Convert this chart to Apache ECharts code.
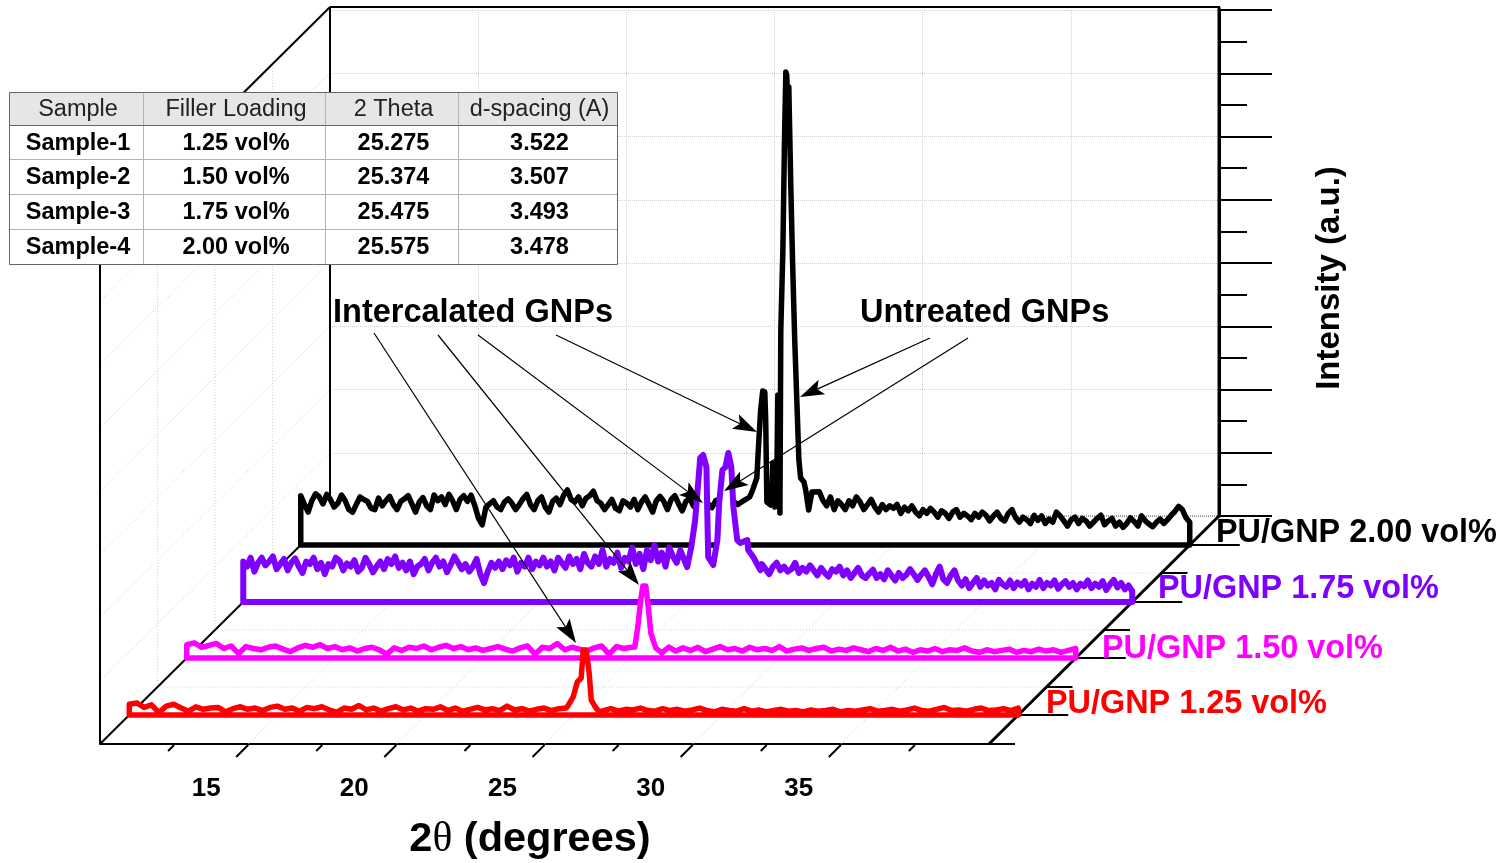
<!DOCTYPE html>
<html>
<head>
<meta charset="utf-8">
<title>XRD PU/GNP</title>
<style>
html, body { margin: 0; padding: 0; background: #fff; }
#chart { width: 1508px; height: 863px; }
</style>
<script src="https://cdn.jsdelivr.net/npm/echarts@6/dist/echarts.min.js"></script>
</head>
<body>
<div id="chart"></div>
<script>
// 2 theta ticks on the floor of the box
const majorTicks = [15, 20, 25, 30, 35];
const minorTicks = [12.5, 17.5, 22.5, 27.5, 32.5, 37.5];
const floorGridTicks = [15, 20, 25, 30, 35, 40];

// table
const tableHeader = ['Sample', 'Filler Loading', '2 Theta', 'd-spacing (A)'];
const tableRow1 = ['Sample-1', '1.25 vol%', '25.275', '3.522'];
const tableRow2 = ['Sample-2', '1.50 vol%', '25.374', '3.507'];
const tableRow3 = ['Sample-3', '1.75 vol%', '25.475', '3.493'];
const tableRow4 = ['Sample-4', '2.00 vol%', '25.575', '3.478'];

// background counts at a fixed step (black, purple 0.125 deg; magenta, red 0.25 deg),
// the peak is read point by point
const blackBefore = [780,640,520,700,810,760,650,800,720,600,
    660,790,700,560,520,640,760,720,690,580,
    560,740,620,700,770,640,560,690,730,780,
    650,520,680,750,620,560,790,700,760,640,
    800,700,560,720,780,690,790,620,420,320,
    600,650,700,600,560,680,730,660,560,640,
    730,800,640,560,700,760,600,520,690,740,
    640,790,870,720,680,760,620,740,780,850,
    700,660,560,640,720,580,540,700,660,600,
    720,560,680,760,640,520,700,770,690,560,
    720,780,650,540,690,740,620,560,710,760,
    650,590,700,720,640,690,760,680,640];
const blackPeakTheta = [24.98,25.15,25.25,25.39,25.46,25.52,25.59,25.66,25.69,25.73,25.86,25.90,25.93,25.96,26.00,26.06,26.10,26.13,26.17,26.20,26.27,26.33,26.37,26.40,26.44,26.47,26.54,26.60,26.67,26.74,26.81,26.87,26.98,27.04,27.14,27.25];
const blackPeakCounts = [711,759,870,1059,1660,2134,2435,2419,1976,680,632,870,1296,1296,600,711,2372,2372,506,3399,4664,6561,7478,7431,6877,7241,5613,4427,3241,2292,1344,1059,996,870,553,838];
const blackAfter = [840,700,620,760,560,700,640,560,700,620,
    760,680,560,640,720,600,520,640,560,620,
    580,640,500,600,540,620,520,460,560,500,
    580,520,440,540,500,420,520,560,440,500,
    460,400,500,440,520,470,380,460,520,420,
    380,500,560,430,360,440,400,340,470,390,
    460,340,410,360,520,460,380,300,400,440,
    340,420,380,300,360,420,470,320,380,420,
    300,360,280,340,430,370,300,460,380,330,
    290,360,410,340,400,470,530,610,560,430,
    360];

const purpleBefore = [640,560,700,480,620,700,580,640,720,520,
    600,680,500,620,690,560,460,640,600,700,
    520,620,440,600,560,700,650,500,610,560,
    660,480,540,700,600,470,560,640,520,680,
    600,720,540,620,500,640,440,560,600,680,
    500,620,700,560,640,470,590,720,620,520,
    600,480,560,680,440,300,480,620,540,640,
    520,660,580,700,480,620,560,700,520,640,
    580,700,560,640,500,700,620,540,720,600,
    680,520,760,620,560,720,600,820,560,680,
    620,780,540,700,640,860,600,760,520,820,
    660,900,640,780,560,860,720,620,820];
const purplePeakTheta = [24.98,25.12,25.25,25.36,25.42,25.52,25.63,25.66,25.69,25.86,26.00,26.06,26.17,26.27,26.37,26.47,26.54,26.67,26.77,27.01,27.04,27.21,27.45];
const purplePeakCounts = [553,870,1296,1929,2277,2324,2134,1407,711,585,980,1565,2087,2134,2356,2134,1502,980,933,980,822,711,506];
const purpleAfter = [600,520,440,560,620,500,560,480,520,620,
    460,540,480,580,500,420,540,460,400,520,
    480,560,420,500,380,460,540,420,380,450,
    510,380,440,360,500,420,340,460,380,430,
    520,440,350,430,500,400,280,440,560,360,
    300,420,500,340,260,360,220,300,380,240,
    340,260,300,200,350,280,240,340,220,310,
    260,330,200,290,240,350,220,300,260,340,
    210,280,330,240,300,200,290,250,340,220,
    290,240,330,190,280,350,230,300,200,260,
    170];

const magentaBefore = [210,240,170,200,230,150,190,70,180,150,130,170,190,140,100,160,200,170,210,150,
    180,130,160,110,150,170,130,60,160,120,170,150,190,130,170,200,150,180,130,160,
    120,150,180,140,110,160,190,60,170,150,230,130,170,140,110,160,190,60,180,150,170];
const magentaPeakTheta = [25.12,25.22,25.32,25.39,25.49,25.56,25.66,25.83,26.03,26.27];
const magentaPeakCounts = [174,490,917,1138,1138,870,395,158,79,174];
const magentaAfter = [110,160,120,170,100,140,180,130,150,110,170,130,150,120,180,110,140,160,120,150,
    170,110,140,120,160,130,100,150,120,170,110,140,90,130,110,150,100,130,120,160,
    110,90,130,100,120,140,90,120,100,140,110,130,90,120,150];

const redBefore = [170,190,120,160,40,140,170,110,60,130,90,110,120,50,100,130,90,110,70,120,
    140,90,110,60,120,100,130,80,40,110,90,150,80,110,60,100,130,80,110,60,
    100,90,130,70,110,60,90,120,80,100,70,140,80,100,60,90,110,70,100,110];
const redPeakTheta = [24.82,24.98,25.12,25.25,25.32,25.42,25.52,25.59,25.73,25.86];
const redPeakCounts = [158,285,522,585,1028,1028,664,237,126,47];
const redAfter = [70,100,60,90,80,110,70,60,100,70,90,60,80,110,70,50,90,70,60,100,
    60,80,50,70,90,60,70,50,80,60,70,90,50,70,60,80,100,60,70,90,
    60,80,110,70,60,90,120,70,80,60,90,110,70,80,100,70,110];

// box geometry in page pixels
const boxLeft = 100, boxWidth = 889, floorFront = 744, floorBack = 516, wallTop = 7;
const depthX = 230, plotHeight = 506;
const slant = depthX / (floorFront - floorBack);
const FONT = '"Liberation Sans", Arial, sans-serif';
const GRID_GREY = '#d0d0d0';

function buildCurve (before, peakTheta, peakCounts, after, step) {
    let pts = [[10, 0]];
    before.forEach((c, i) => pts.push([10 + i * step, c]));
    peakTheta.forEach((t, i) => pts.push([t, peakCounts[i]]));
    after.forEach((c, i) => pts.push([40 - (after.length - 1 - i) * step, c]));
    pts.push([40, 0]);
    pts.push([10, 0]);
    return pts;
}

const planes = [
    {name: 'PU/GNP 2.00 vol%', color: '#000000', base: 545, width: 5.5, labelX: 1216, labelY: 533,
        data: buildCurve(blackBefore, blackPeakTheta, blackPeakCounts, blackAfter, 0.125)},
    {name: 'PU/GNP 1.75 vol%', color: '#8000ff', base: 602, width: 6, labelX: 1158, labelY: 589,
        data: buildCurve(purpleBefore, purplePeakTheta, purplePeakCounts, purpleAfter, 0.125)},
    {name: 'PU/GNP 1.50 vol%', color: '#ff00ff', base: 658, width: 5.5, labelX: 1102, labelY: 649,
        data: buildCurve(magentaBefore, magentaPeakTheta, magentaPeakCounts, magentaAfter, 0.25)},
    {name: 'PU/GNP 1.25 vol%', color: '#ff0000', base: 715, width: 5.5, labelX: 1046, labelY: 704,
        data: buildCurve(redBefore, redPeakTheta, redPeakCounts, redAfter, 0.25)}
];

const grids = [
    // back wall, carries the intensity ticks
    {left: boxLeft + depthX, top: floorBack - plotHeight, width: boxWidth, height: plotHeight},
    // front edge of the floor
    {left: boxLeft, top: floorFront - plotHeight, width: boxWidth, height: plotHeight}
];
const xAxes = [
    {gridIndex: 0, type: 'value', min: 10, max: 40, interval: 5, axisLine: {show: false}, axisTick: {show: false},
        axisLabel: {show: false}, splitLine: {show: true, lineStyle: {color: GRID_GREY, type: 'dotted', width: 1}}},
    {gridIndex: 1, type: 'value', min: 10, max: 40, interval: 5,
        axisLine: {show: true, onZero: false, lineStyle: {color: '#000', width: 2}}, axisTick: {show: false},
        axisLabel: {show: false}, splitLine: {show: false}}
];
const yAxes = [
    {gridIndex: 0, type: 'value', min: 0, max: 8000, interval: 1000, position: 'right',
        axisLine: {show: true, lineStyle: {color: '#000', width: 3}},
        axisTick: {show: true, length: 53, lineStyle: {color: '#000', width: 2}},
        minorTick: {show: true, splitNumber: 2, length: 28, lineStyle: {color: '#000', width: 2}},
        axisLabel: {show: false},
        splitLine: {show: true, lineStyle: {color: GRID_GREY, type: 'dotted', width: 1}}},
    {gridIndex: 1, type: 'value', min: 0, max: 8000, show: false}
];

let series = [];
planes.forEach((p, i) => {
    grids.push({left: boxLeft + (floorFront - p.base) * slant, top: p.base - plotHeight, width: boxWidth, height: plotHeight});
    xAxes.push({gridIndex: i + 2, type: 'value', min: 10, max: 40, show: false});
    yAxes.push({gridIndex: i + 2, type: 'value', min: 0, max: 8000, show: false});
    series.push({
        name: p.name,
        type: 'line',
        xAxisIndex: i + 2,
        yAxisIndex: i + 2,
        data: p.data,
        showSymbol: false,
        clip: false,
        z: 3 + i,
        lineStyle: {color: p.color, width: p.width, join: 'round', cap: 'round'},
        areaStyle: {color: '#ffffff', opacity: 1, origin: 'start'},
        silent: true
    });
});

// dotted lines running back across the floor
series.push({
    type: 'custom',
    xAxisIndex: 1,
    yAxisIndex: 1,
    clip: false,
    z: 1,
    silent: true,
    data: floorGridTicks.map((v) => [v, 0]),
    renderItem: (params, api) => {
        let pt = api.coord([api.value(0), 0]);
        return {type: 'line', shape: {x1: pt[0], y1: pt[1], x2: pt[0] + depthX, y2: pt[1] - (floorFront - floorBack)},
            style: {stroke: GRID_GREY, lineWidth: 1, lineDash: [1, 2]}};
    },
    encode: {x: 0, y: 1}
});
// slanted 2 theta ticks and labels
series.push({
    type: 'custom',
    xAxisIndex: 1,
    yAxisIndex: 1,
    clip: false,
    z: 2,
    silent: true,
    data: majorTicks.map((v) => [v, 0]),
    renderItem: (params, api) => {
        let pt = api.coord([api.value(0), 0]);
        return {type: 'group', children: [
            {type: 'line', shape: {x1: pt[0], y1: pt[1] + 1, x2: pt[0] - 12, y2: pt[1] + 13},
                style: {stroke: '#000', lineWidth: 2}},
            {type: 'text', style: {x: pt[0] - 42, y: pt[1] + 45, text: String(api.value(0)), fill: '#000',
                font: 'bold 26px ' + FONT, textAlign: 'center', textVerticalAlign: 'middle'}}
        ]};
    },
    encode: {x: 0, y: 1}
});
series.push({
    type: 'custom',
    xAxisIndex: 1,
    yAxisIndex: 1,
    clip: false,
    z: 2,
    silent: true,
    data: minorTicks.map((v) => [v, 0]),
    renderItem: (params, api) => {
        let pt = api.coord([api.value(0), 0]);
        return {type: 'line', shape: {x1: pt[0], y1: pt[1] + 1, x2: pt[0] - 6, y2: pt[1] + 7},
            style: {stroke: '#000', lineWidth: 2}};
    },
    encode: {x: 0, y: 1}
});

// ---- box frame, annotations and table ----
let graphics = [];
function addLine (x1, y1, x2, y2, stroke, lineWidth, z, dash) {
    graphics.push({type: 'line', z: z, silent: true, shape: {x1: x1, y1: y1, x2: x2, y2: y2},
        style: {stroke: stroke, lineWidth: lineWidth, lineDash: dash || null}});
}
function addText (text, x, y, font, fill, align, z, rotation, rich) {
    graphics.push({type: 'text', z: z, silent: true, x: x, y: y, rotation: rotation || 0,
        style: {text: text, x: 0, y: 0, font: font, fill: fill, textAlign: align, textVerticalAlign: 'middle', rich: rich}});
}
function addArrow (x1, y1, x2, y2) {
    let ang = Math.atan2(y2 - y1, x2 - x1);
    let ca = Math.cos(ang), sa = Math.sin(ang);
    let len = 24, half = 8, notch = 19;
    addLine(x1, y1, x2 - ca * notch, y2 - sa * notch, '#000', 1.2, 20);
    graphics.push({type: 'polygon', z: 21, silent: true, shape: {points: [
        [x2, y2],
        [x2 - ca * len - sa * half, y2 - sa * len + ca * half],
        [x2 - ca * notch, y2 - sa * notch],
        [x2 - ca * len + sa * half, y2 - sa * len - ca * half]
    ]}, style: {fill: '#000'}});
}

// dotted lines on the left wall and floor
const floorDepths = [687, 630, 573];
const wallRows = [1, 2, 3, 4, 5, 6, 7, 8];
wallRows.forEach((k) => {
    let y = floorFront - k * plotHeight / 8;
    addLine(boxLeft, y, boxLeft + depthX, y - (floorFront - floorBack), GRID_GREY, 1, 1, [1, 2]);
});
floorDepths.forEach((y) => {
    let x = boxLeft + (floorFront - y) * slant;
    addLine(x, y, x + boxWidth, y, GRID_GREY, 1, 1, [1, 2]);
    addLine(x, y, x, y - plotHeight, GRID_GREY, 1, 1, [1, 2]);
});

// frame
addLine(boxLeft + depthX, wallTop, boxLeft + depthX + boxWidth + 1, wallTop, '#000', 2, 2);
addLine(boxLeft + depthX, wallTop, boxLeft + depthX, floorBack, '#000', 2, 2);
addLine(boxLeft + depthX + boxWidth, wallTop, boxLeft + depthX + boxWidth, floorBack, '#000', 3, 2);
addLine(boxLeft + depthX, floorBack, boxLeft + depthX + boxWidth, floorBack, '#555', 1, 2, [1, 1]);
addLine(boxLeft + depthX, wallTop, boxLeft, wallTop + (floorFront - floorBack), '#000', 2, 2);
addLine(boxLeft, wallTop + (floorFront - floorBack), boxLeft, floorFront, '#000', 2, 2);
addLine(boxLeft, floorFront, boxLeft + depthX, floorBack, '#000', 2, 2);
addLine(boxLeft + boxWidth, floorFront, boxLeft + boxWidth + depthX, floorBack, '#000', 3, 2);

// depth ticks on the right slant
const depthMajor = [715, 658, 602, 545];
const depthMinor = [744, 687, 630, 573];
depthMajor.forEach((y) => {
    let x = boxLeft + boxWidth + (floorFront - y) * slant;
    addLine(x, y, x + 50, y, '#000', 2, 2);
});
depthMinor.forEach((y) => {
    let x = boxLeft + boxWidth + (floorFront - y) * slant;
    addLine(x, y, x + 26, y, '#000', 2, 2);
});

// series names
planes.forEach((p) => addText(p.name, p.labelX, p.labelY, 'bold 32.4px ' + FONT, p.color, 'left', 15));

// axis titles
addText('Intensity (a.u.)', 1330, 278, 'bold 33px ' + FONT, '#000', 'center', 15, Math.PI / 2);
addText('2{t|θ} (degrees)', 530, 840, 'bold 41.5px ' + FONT, '#000', 'center', 15, 0, {
    t: {font: '41.5px "Liberation Serif", serif', fill: '#000'}
});

// annotations
addText('Intercalated GNPs', 333, 313, 'bold 32.5px ' + FONT, '#000', 'left', 15);
addText('Untreated GNPs', 860, 313, 'bold 32.5px ' + FONT, '#000', 'left', 15);
addArrow(374, 333, 576, 643);
addArrow(438, 335, 639, 585);
addArrow(478, 335, 703, 503);
addArrow(556, 335, 757, 432);
addArrow(930, 338, 800, 397);
addArrow(968, 338, 724, 491);

// table
const colEdges = [9, 143, 325, 458, 617];
const rowEdges = [92, 125, 159, 194, 229, 264];
const tableRows = [tableHeader, tableRow1, tableRow2, tableRow3, tableRow4];
graphics.push({type: 'rect', z: 30, silent: true, shape: {x: colEdges[0], y: rowEdges[0], width: colEdges[4] - colEdges[0], height: rowEdges[5] - rowEdges[0]},
    style: {fill: '#fff', stroke: null}});
graphics.push({type: 'rect', z: 31, silent: true, shape: {x: colEdges[0], y: rowEdges[0], width: colEdges[4] - colEdges[0], height: rowEdges[1] - rowEdges[0]},
    style: {fill: '#e6e6e6', stroke: null}});
colEdges.slice(1, 4).forEach((x) => addLine(x + 0.5, rowEdges[0], x + 0.5, rowEdges[5], '#b4b4b4', 1, 32));
rowEdges.slice(2, 5).forEach((y) => addLine(colEdges[0], y + 0.5, colEdges[4], y + 0.5, '#b4b4b4', 1, 32));
addLine(colEdges[0], rowEdges[1] + 0.5, colEdges[4], rowEdges[1] + 0.5, '#666', 1, 33);
graphics.push({type: 'rect', z: 33, silent: true, shape: {x: colEdges[0] + 0.5, y: rowEdges[0] + 0.5, width: colEdges[4] - colEdges[0], height: rowEdges[5] - rowEdges[0]},
    style: {fill: 'none', stroke: '#666', lineWidth: 1}});
tableRows.forEach((row, r) => {
    row.forEach((cell, c) => {
        let cx = (colEdges[c] + colEdges[c + 1]) / 2 + 2;
        let cy = (rowEdges[r] + rowEdges[r + 1]) / 2 + 1.5;
        addText(cell, cx, cy, (r === 0 ? '' : 'bold ') + '23.5px ' + FONT, r === 0 ? '#222' : '#000', 'center', 34);
    });
});

let myChart = echarts.init(document.getElementById('chart'), null, {renderer: 'canvas'});
myChart.setOption({
    animation: false,
    backgroundColor: '#ffffff',
    grid: grids,
    xAxis: xAxes,
    yAxis: yAxes,
    series: series,
    graphic: {elements: graphics}
});
</script>
</body>
</html>
